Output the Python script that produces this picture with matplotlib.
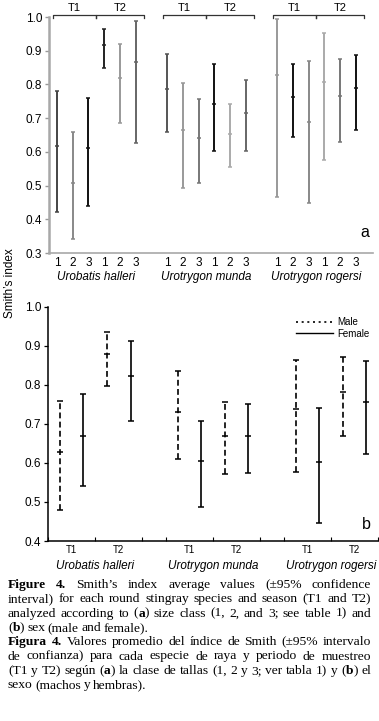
import matplotlib
matplotlib.use("Agg")
import matplotlib.pyplot as plt
from matplotlib.lines import Line2D

# species and seasons
species = ["Urobatis halleri", "Urotrygon munda", "Urotrygon rogersi"]
seasons = ["T1", "T2"]
size_classes = ["1", "2", "3"]

# panel a: size class (per species: T1 1,2,3 then T2 1,2,3)
a_low = [0.421, 0.342, 0.438, 0.848, 0.686, 0.627,
         0.659, 0.494, 0.508, 0.602, 0.556, 0.602,
         0.467, 0.644, 0.447, 0.576, 0.630, 0.664]
a_mean = [0.617, 0.509, 0.610, 0.917, 0.820, 0.866,
          0.787, 0.665, 0.640, 0.743, 0.654, 0.714,
          0.827, 0.762, 0.688, 0.807, 0.766, 0.788]
a_high = [0.780, 0.659, 0.759, 0.963, 0.919, 0.987,
          0.890, 0.804, 0.756, 0.860, 0.741, 0.813,
          0.993, 0.860, 0.869, 0.952, 0.874, 0.886]
a_colors = ["#444444", "#888888", "#111111", "#222222", "#999999", "#666666",
            "#555555", "#999999", "#777777", "#111111", "#aaaaaa", "#666666",
            "#999999", "#111111", "#888888", "#aaaaaa", "#777777", "#111111"]

# panel b: sex (per species: T1 male, T1 female, T2 male, T2 female)
sexes = ["Male", "Female"]
b_low = [0.480, 0.541, 0.796, 0.708,
         0.610, 0.487, 0.572, 0.574,
         0.576, 0.445, 0.669, 0.623]
b_mean = [0.629, 0.669, 0.879, 0.822,
          0.731, 0.604, 0.669, 0.669,
          0.738, 0.602, 0.782, 0.755]
b_high = [0.759, 0.776, 0.936, 0.912,
          0.835, 0.708, 0.757, 0.750,
          0.864, 0.740, 0.872, 0.862]

W, H = 379, 721
plt.rcParams["font.family"] = ["Liberation Sans", "DejaVu Sans"]

fig = plt.figure(figsize=(W / 100, H / 100), dpi=100)

# ---------------- panel a ----------------
ax1 = fig.add_axes([49 / W, 1 - 253 / H, 324 / W, 236 / H])
a_x = []
for s in range(3):
    for k in range(6):
        a_x.append(s * 7 + k)

for i in range(len(a_x)):
    ax1.errorbar([a_x[i]], [a_mean[i]],
                 yerr=[[a_mean[i] - a_low[i]], [a_high[i] - a_mean[i]]],
                 fmt="_", ms=3.2, mew=1.1, color=a_colors[i], ecolor=a_colors[i],
                 elinewidth=1.4, capsize=1.6, capthick=1.1, clip_on=False)

ax1.set_xlim(-0.51, 20.1)
ax1.set_ylim(0.3, 1.0)
ax1.set_yticks([0.3, 0.4, 0.5, 0.6, 0.7, 0.8, 0.9, 1.0])
ax1.set_yticklabels(["0.3", "0.4", "0.5", "0.6", "0.7", "0.8", "0.9", "1.0"])
ax1.set_xticks(a_x)
ax1.set_xticklabels(size_classes * 6)
ax1.tick_params(axis="x", length=0, pad=3, labelsize=8.5)
ax1.tick_params(axis="y", length=3, width=1, color="#999999", pad=2, labelsize=8.5)
for sp in ["top", "right"]:
    ax1.spines[sp].set_visible(False)
ax1.spines["left"].set_color("#a8a8a8")
ax1.spines["left"].set_linewidth(1.8)
ax1.spines["bottom"].set_color("#a8a8a8")
ax1.spines["bottom"].set_linewidth(1.2)

# season brackets over each species
for s in range(3):
    x0 = s * 7
    for j, (lo, hi) in enumerate([(x0 - 0.25, x0 + 2.45), (x0 + 2.45, x0 + 5.55)]):
        ax1.plot([lo, lo, hi, hi], [0.998, 1.006, 1.006, 0.998], color="#333333",
                 lw=0.9, clip_on=False)
        ax1.text((lo + hi) / 2, 1.012, seasons[j], ha="center", va="bottom",
                 fontsize=8)
    ax1.text(x0 + 2.5, -0.10, species[s], transform=ax1.get_xaxis_transform(),
             ha="center", va="center", fontsize=8.5, style="italic")

ax1.text(0.975, 0.085, "a", transform=ax1.transAxes, ha="center", va="center",
         fontsize=11.5)

# ---------------- panel b ----------------
ax2 = fig.add_axes([48 / W, 1 - 541 / H, 330 / W, 234.3 / H])
b_x = []
for s in range(3):
    for k in range(4):
        b_x.append(s * 5 + k)

for i in range(len(b_x)):
    eb = ax2.errorbar([b_x[i]], [b_mean[i]],
                      yerr=[[b_mean[i] - b_low[i]], [b_high[i] - b_mean[i]]],
                      fmt="_", ms=4.2, mew=1.1, color="black", ecolor="black",
                      elinewidth=1.2, capsize=2.2, capthick=1.1)
    if i % 2 == 0:
        eb[2][0].set_linestyle((0, (3.5, 2)))

ax2.set_xlim(-0.42, 13.5)
ax2.set_ylim(0.4, 1.0)
ax2.set_yticks([0.4, 0.5, 0.6, 0.7, 0.8, 0.9, 1.0])
ax2.set_yticklabels(["0.4", "0.5", "0.6", "0.7", "0.8", "0.9", "1.0"])
t_pos = []
t_lab = []
bounds = []
for s in range(3):
    t_pos += [s * 5 + 0.5, s * 5 + 2.5]
    t_lab += seasons
    bounds += [s * 5 - 0.5, s * 5 + 1.5, s * 5 + 3.5]
    ax2.text(s * 5 + 1.5, -0.107, species[s], transform=ax2.get_xaxis_transform(),
             ha="center", va="center", fontsize=8.5, style="italic")
ax2.set_xticks(t_pos)
ax2.set_xticklabels(t_lab)
ax2.set_xticks(bounds, minor=True)
ax2.tick_params(axis="x", which="major", length=0, pad=3, labelsize=7)
ax2.tick_params(axis="x", which="minor", length=3, direction="in", width=0.8)
ax2.tick_params(axis="y", length=3, width=0.9, pad=2, labelsize=8.5)
for sp in ["top", "right"]:
    ax2.spines[sp].set_visible(False)
ax2.spines["left"].set_linewidth(1.1)
ax2.spines["bottom"].set_linewidth(1.1)

handles = [Line2D([], [], color="black", lw=1.2, ls=(0, (1.2, 2.2))),
           Line2D([], [], color="black", lw=1.0)]
ax2.legend(handles, sexes, loc="upper right", bbox_to_anchor=(0.975, 0.955),
           frameon=False, fontsize=7, handlelength=3.8, handletextpad=0.5,
           labelspacing=0.15, borderpad=0, borderaxespad=0)

ax2.text(0.965, 0.07, "b", transform=ax2.transAxes, ha="center", va="center",
         fontsize=11.5)

fig.text(10 / W, 1 - 283 / H, "Smith\u2019s index", rotation=90, ha="center",
         va="center", fontsize=8.5)

# ---------------- caption ----------------
cap_lines = [
    ([[("Figure", "bold")], [("4.", "bold")], "Smith\u2019s", "index", "average",
      "values", "(\u00b195%", "confidence"], True),
    ("interval) for each round stingray species and season (T1 and T2)".split(), True),
    (["analyzed", "according", "to", [("(", "normal"), ("a", "bold"), (")", "normal")],
      "size", "class", "(1,", "2,", "and", "3;", "see", "table", "1)", "and"], True),
    ([[("(", "normal"), ("b", "bold"), (")", "normal")], "sex", "(male", "and",
      "female)."], False),
    ([[("Figura", "bold")], [("4.", "bold")], "Valores", "promedio", "del",
      "\u00edndice", "de", "Smith", "(\u00b195%", "intervalo"], True),
    ("de confianza) para cada especie de raya y periodo de muestreo".split(), True),
    (["(T1", "y", "T2)", "seg\u00fan", [("(", "normal"), ("a", "bold"), (")", "normal")],
      "la", "clase", "de", "tallas", "(1,", "2", "y", "3;", "ver", "tabla", "1)", "y",
      [("(", "normal"), ("b", "bold"), (")", "normal")], "el"], True),
    ("sexo (machos y hembras).".split(), False),
]

renderer = fig.canvas.get_renderer()
cap_x0, cap_x1 = 8, 371
cap_size = 9.7
space_w = 2.6
for n, (words, justify) in enumerate(cap_lines):
    y = 1 - (585 + n * 14.3) / H
    items = []
    total = 0
    for w in words:
        if isinstance(w, str):
            w = [(w, "normal")]
        runs = []
        ww = 0
        for txt, weight in w:
            t = fig.text(0, y, txt, fontsize=cap_size, family="Liberation Serif",
                         weight=weight, va="center", ha="left")
            rw = t.get_window_extent(renderer).width
            runs.append((t, rw))
            ww += rw
        items.append(runs)
        total += ww
    if justify and len(items) > 1:
        gap = (cap_x1 - cap_x0 - total) / (len(items) - 1)
    else:
        gap = space_w
    x = cap_x0
    for runs in items:
        for t, rw in runs:
            t.set_x(x / W)
            x += rw
        x += gap

fig.savefig("out.png", dpi=100)
